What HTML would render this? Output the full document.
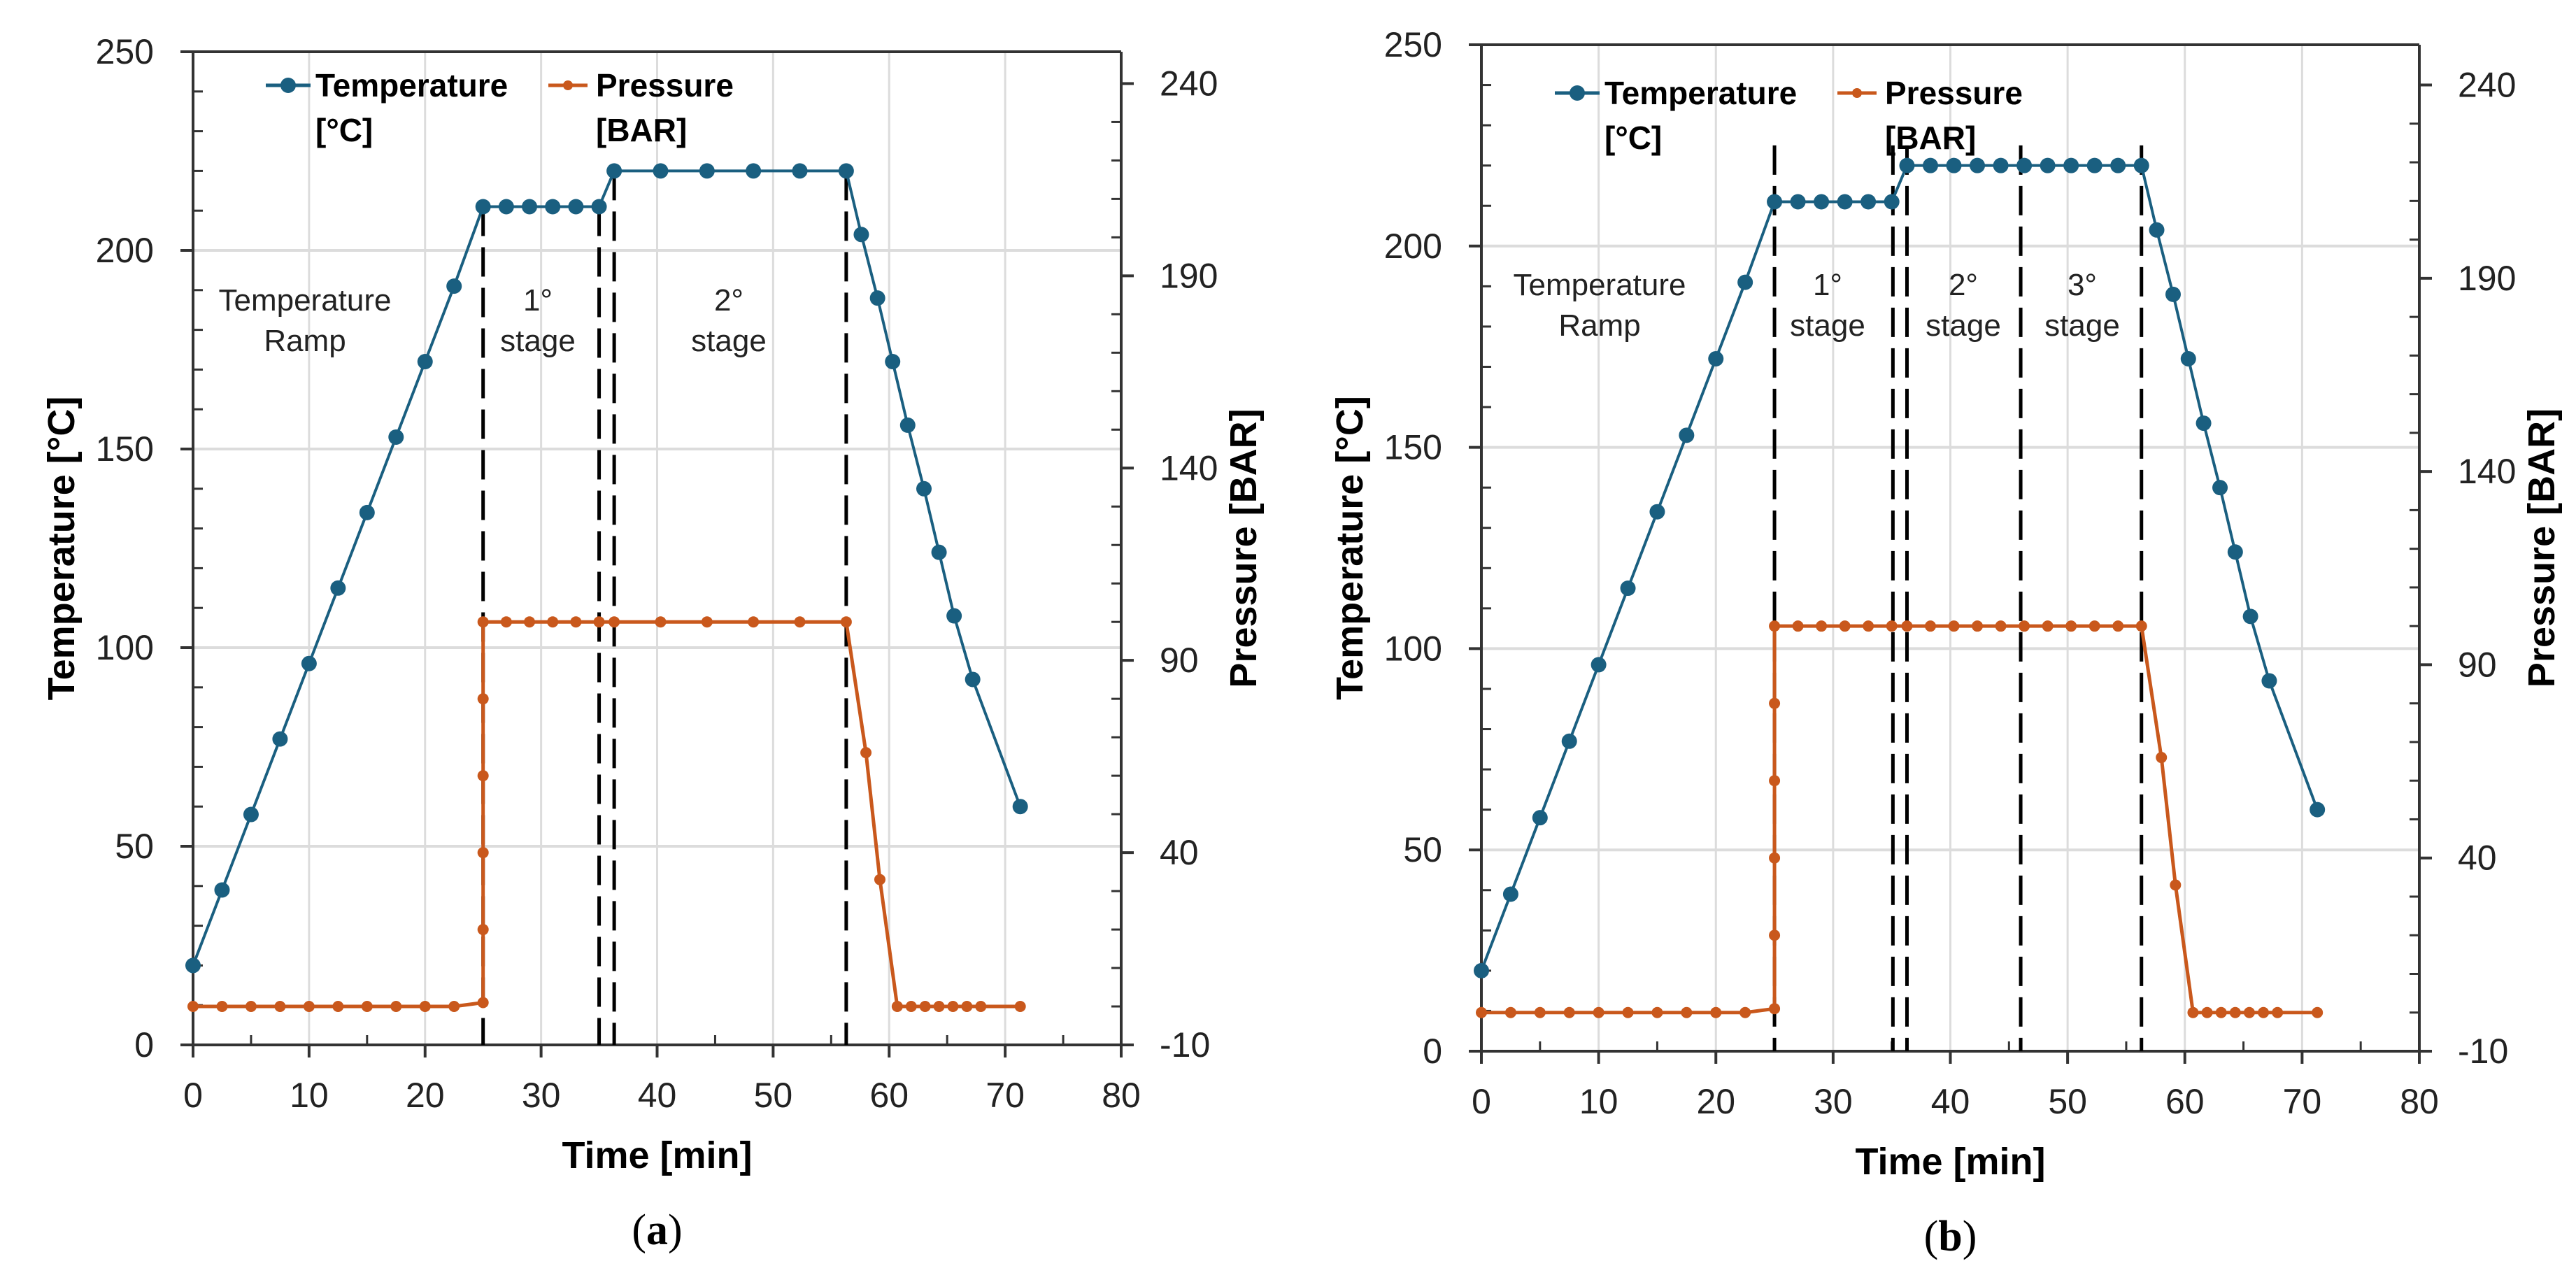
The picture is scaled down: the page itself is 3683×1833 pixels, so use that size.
<!DOCTYPE html>
<html><head><meta charset="utf-8">
<style>
html,body{margin:0;padding:0;background:#fff;}
svg{display:block;}
text{font-family:"Liberation Sans",sans-serif;}
</style></head>
<body>
<svg id="fig" width="3683" height="1833" viewBox="0 0 3683 1833" xmlns="http://www.w3.org/2000/svg"></svg>
<script>
// ---- data ----
const timeTicks = [0,10,20,30,40,50,60,70,80];
const tempTicks = [0,50,100,150,200,250];
const presTicks = [-10,40,90,140,190,240];
const tempTimeA = [0,2.5,5,7.5,10,12.5,15,17.5,20,22.5,25,27,29,31,33,35,36.3,40.3,44.3,48.3,52.3,56.3,57.6,59,60.3,61.6,63,64.3,65.6,67.2,71.3];
const tempValA  = [20,39,58,77,96,115,134,153,172,191,211,211,211,211,211,211,220,220,220,220,220,220,204,188,172,156,140,124,108,92,60];
const presTimeA = [0,2.5,5,7.5,10,12.5,15,17.5,20,22.5,25,25,25,25,25,25,27,29,31,33,35,36.3,40.3,44.3,48.3,52.3,56.3,58,59.2,60.7,61.9,63.1,64.3,65.5,66.7,67.9,71.3];
const presValA  = [0,0,0,0,0,0,0,0,0,0,1,20,40,60,80,100,100,100,100,100,100,100,100,100,100,100,100,66,33,0,0,0,0,0,0,0,0];
const tempTimeB = [0,2.5,5,7.5,10,12.5,15,17.5,20,22.5,25,27,29,31,33,35,36.3,38.3,40.3,42.3,44.3,46.3,48.3,50.3,52.3,54.3,56.3,57.6,59,60.3,61.6,63,64.3,65.6,67.2,71.3];
const tempValB  = [20,39,58,77,96,115,134,153,172,191,211,211,211,211,211,211,220,220,220,220,220,220,220,220,220,220,220,204,188,172,156,140,124,108,92,60];
const presTimeB = [0,2.5,5,7.5,10,12.5,15,17.5,20,22.5,25,25,25,25,25,25,27,29,31,33,35,36.3,38.3,40.3,42.3,44.3,46.3,48.3,50.3,52.3,54.3,56.3,58,59.2,60.7,61.9,63.1,64.3,65.5,66.7,67.9,71.3];
const presValB  = [0,0,0,0,0,0,0,0,0,0,1,20,40,60,80,100,100,100,100,100,100,100,100,100,100,100,100,100,100,100,100,100,66,33,0,0,0,0,0,0,0,0];
const stageLinesA = [25,35,36.3,56.3];
const stageTopsA  = [211,211,220,220];
const stageLinesB = [25,35.1,36.3,46,56.3];
const stageTopsB  = [225,225,225,225,225];

const NS='http://www.w3.org/2000/svg';
const svg=document.getElementById('fig');
function mk(tag,attrs,parent,txt){const e=document.createElementNS(NS,tag);for(const k in attrs)e.setAttribute(k,attrs[k]);if(txt!==undefined)e.textContent=txt;(parent||svg).appendChild(e);return e;}

function chart(cfg){
  const g=mk('g',{});
  
  
  const X=t=>cfg.x0+(t-0)/80*(cfg.x1-cfg.x0);
  const Y=v=>cfg.y0-(v/250)*(cfg.y0-cfg.y1);
  const P=v=>cfg.y0-((v+10)/250)*(cfg.y0-cfg.y1)*cfg.pk;
  // grid
  timeTicks.forEach(t=>{if(t>0&&t<80){const l=mk('line',{x1:X(t),x2:X(t),y1:cfg.y1,y2:cfg.y0,stroke:'#dcdcdc','stroke-width':3},g);}});
  tempTicks.forEach(v=>{if(v>0&&v<250){const l=mk('line',{x1:cfg.x0,x2:cfg.x1,y1:Y(v),y2:Y(v),stroke:'#dcdcdc','stroke-width':4},g);}});
  // axes
  const ax={stroke:'#333','stroke-width':4};
  const la=mk('line',Object.assign({x1:cfg.x0,x2:cfg.x0,y1:cfg.y1,y2:cfg.y0+18},ax),g);
  const ra=mk('line',Object.assign({x1:cfg.x1,x2:cfg.x1,y1:cfg.y1,y2:cfg.y0+18},ax),g);
  const ba=mk('line',Object.assign({x1:cfg.x0-18,x2:cfg.x1+18,y1:cfg.y0,y2:cfg.y0},ax),g);
  const ta=mk('line',Object.assign({x1:cfg.x0-18,x2:cfg.x1,y1:cfg.y1,y2:cfg.y1},ax),g);
  // left ticks
  for(let v=0;v<=250;v+=10){ if(v%50===0){mk('line',Object.assign({x1:cfg.x0-18,x2:cfg.x0,y1:Y(v),y2:Y(v)},ax),g);} else mk('line',{x1:cfg.x0,x2:cfg.x0+14,y1:Y(v),y2:Y(v),stroke:'#333','stroke-width':3},g);}
  tempTicks.forEach(v=>{const t=mk('text',{x:cfg.x0-56,y:Y(v)+17,'font-size':50,'text-anchor':'end',fill:'#222'},g,String(v));});
  // right ticks
  for(let v=-10;v<=240;v+=10){ if((v+10)%50===0) mk('line',Object.assign({x1:cfg.x1,x2:cfg.x1+18,y1:P(v),y2:P(v)},ax),g); else mk('line',{x1:cfg.x1-14,x2:cfg.x1,y1:P(v),y2:P(v),stroke:'#333','stroke-width':3},g);}
  presTicks.forEach(v=>{const t=mk('text',{x:cfg.x1+55,y:P(v)+17,'font-size':50,fill:'#222'},g,String(v));});
  // x ticks
  for(let t=0;t<=80;t+=5){ if(t%10===0) mk('line',Object.assign({x1:X(t),x2:X(t),y1:cfg.y0,y2:cfg.y0+18},ax),g); else mk('line',{x1:X(t),x2:X(t),y1:cfg.y0-14,y2:cfg.y0,stroke:'#333','stroke-width':3},g);}
  timeTicks.forEach(v=>{const t=mk('text',{x:X(v),y:cfg.y0+89,'font-size':50,'text-anchor':'middle',fill:'#222'},g,String(v));});
  // titles
  const yt=mk('text',{x:0,y:0,'font-size':54,'font-weight':'bold','text-anchor':'middle',transform:`translate(${cfg.x0-170},${(cfg.y0+cfg.y1)/2}) rotate(-90)`},g,'Temperature [°C]');
  const pt=mk('text',{x:0,y:0,'font-size':54,'font-weight':'bold','text-anchor':'middle',transform:`translate(${cfg.x1+193},${(cfg.y0+cfg.y1)/2}) rotate(-90)`},g,'Pressure [BAR]');
  const xt=mk('text',{x:(cfg.x0+cfg.x1)/2,y:cfg.y0+176,'font-size':54,'font-weight':'bold','text-anchor':'middle'},g,'Time [min]');
  const cap=mk('text',{x:(cfg.x0+cfg.x1)/2,y:cfg.y0+285,'font-size':62,'text-anchor':'middle',style:'font-family:"Liberation Serif",serif'},g);
  
  mk('tspan',{},cap,'(');mk('tspan',{'font-weight':'bold'},cap,cfg.id);mk('tspan',{},cap,')');
  // stage lines
  cfg.lines.forEach((t,i)=>{const l=mk('line',{x1:X(t),x2:X(t),y1:Y(cfg.tops[i]),y2:cfg.y0,stroke:'#000','stroke-width':5,'stroke-dasharray':'42 16'},g);});
  // annotations
  cfg.labels.forEach(a=>{const t=mk('text',{x:a[0],y:a[1],'font-size':44,'text-anchor':'middle',fill:'#222'},g);
    mk('tspan',{x:a[0],dy:0},t,a[2]);mk('tspan',{x:a[0],dy:58},t,a[3]);});
  // series
  const pp=cfg.pt.map((t,i)=>X(t)+','+P(cfg.pv[i])).join(' ');
  const pl=mk('polyline',{points:pp,fill:'none',stroke:'#c9581c','stroke-width':5},g);
  cfg.pt.forEach((t,i)=>{const c=mk('circle',{cx:X(t),cy:P(cfg.pv[i]),r:8,fill:'#c9581c'},g);});
  const tp=cfg.tt.map((t,i)=>X(t)+','+Y(cfg.tv[i])).join(' ');
  const tl=mk('polyline',{points:tp,fill:'none',stroke:'#1a5f80','stroke-width':4},g);
  cfg.tt.forEach((t,i)=>{const c=mk('circle',{cx:X(t),cy:Y(cfg.tv[i]),r:11,fill:'#1a5f80'},g);});
  // legend
  const lg=mk('g',{},g);
  const L=cfg.leg;
  const e1=mk('g',{},lg);
  mk('line',{x1:L[0]-32,x2:L[0]+32,y1:L[1],y2:L[1],stroke:'#1a5f80','stroke-width':5},e1);
  mk('circle',{cx:L[0],cy:L[1],r:11,fill:'#1a5f80'},e1);
  mk('text',{x:L[0]+39,y:L[1]+16,'font-size':46,'font-weight':'bold'},e1,'Temperature');
  mk('text',{x:L[0]+39,y:L[1]+80,'font-size':46,'font-weight':'bold'},e1,'[°C]');
  const e2=mk('g',{},lg);
  mk('line',{x1:L[2]-28,x2:L[2]+28,y1:L[1],y2:L[1],stroke:'#c9581c','stroke-width':5},e2);
  mk('circle',{cx:L[2],cy:L[1],r:7,fill:'#c9581c'},e2);
  mk('text',{x:L[2]+40,y:L[1]+16,'font-size':46,'font-weight':'bold'},e2,'Pressure');
  mk('text',{x:L[2]+40,y:L[1]+80,'font-size':46,'font-weight':'bold'},e2,'[BAR]');
}
chart({id:'a',x0:276,x1:1603,y0:1494,y1:74,pk:1420/1420*0.968,
  tt:tempTimeA,tv:tempValA,pt:presTimeA,pv:presValA,lines:stageLinesA,tops:stageTopsA,
  labels:[[436,444,'Temperature','Ramp'],[769,444,'1°','stage'],[1042,444,'2°','stage']],
  leg:[412,122,812]});
chart({id:'b',x0:2118,x1:3459,y0:1503,y1:64,pk:0.96,
  tt:tempTimeB,tv:tempValB,pt:presTimeB,pv:presValB,lines:stageLinesB,tops:stageTopsB,
  labels:[[2287,422,'Temperature','Ramp'],[2613,422,'1°','stage'],[2807,422,'2°','stage'],[2977,422,'3°','stage']],
  leg:[2255,133,2655]});
</script>
</body></html>
